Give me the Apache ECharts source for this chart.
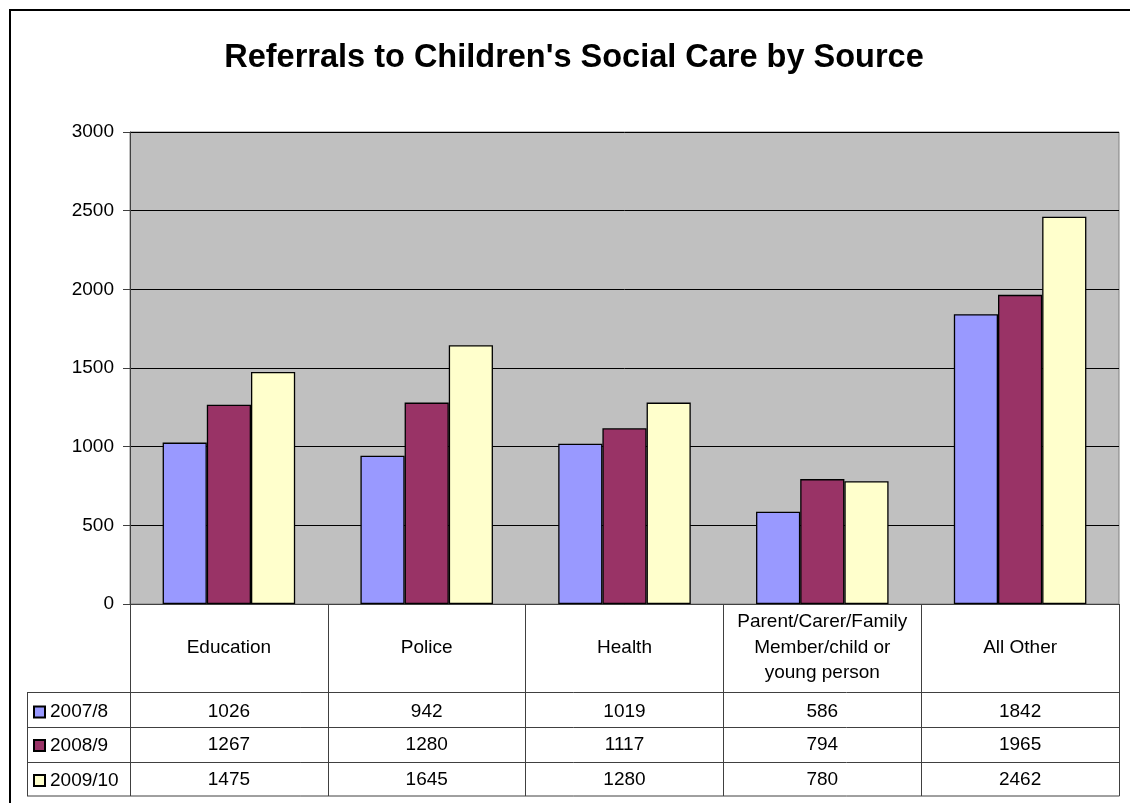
<!DOCTYPE html>
<html>
<head>
<meta charset="utf-8">
<script src="https://cdn.jsdelivr.net/npm/echarts@6/dist/echarts.min.js"></script>
<style>html,body{margin:0;padding:0;background:#fff;}#c{width:1130px;height:803px;}</style>
</head>
<body>
<div id="c"></div>
<script>
const categories = ['Education', 'Police', 'Health', 'Parent/Carer/Family\nMember/child or\nyoung person', 'All Other'];
const seriesNames = ['2007/8', '2008/9', '2009/10'];
const s2007 = [1026, 942, 1019, 586, 1842];
const s2008 = [1267, 1280, 1117, 794, 1965];
const s2009 = [1475, 1645, 1280, 780, 2462];
const yTicks = [0, 500, 1000, 1500, 2000, 2500, 3000];

const FONT = "'Liberation Sans', Arial, sans-serif";
const colors = ['#9999FF', '#993366', '#FFFFCC'];
const lineCol = '#404040';
const allSeries = [s2007, s2008, s2009];
const rowOffsets = [107.5, 141, 176];

const chart = echarts.init(document.getElementById('c'), null, {renderer: 'canvas'});

const xAxes = [{
  type: 'category', data: categories, gridIndex: 0, position: 'bottom',
  axisLine: {show: true, lineStyle: {color: lineCol, width: 1}},
  axisTick: {show: true, length: 192, lineStyle: {color: lineCol, width: 1}},
  axisLabel: {interval: 0, margin: 43.5, verticalAlign: 'middle', lineHeight: 25.6,
    fontFamily: FONT, fontSize: 19, color: '#000', align: 'center'}
}];
allSeries.forEach((arr, i) => {
  xAxes.push({
    type: 'category', data: categories, gridIndex: 0, position: 'bottom', offset: rowOffsets[i],
    axisLine: {show: false}, axisTick: {show: false},
    axisLabel: {interval: 0, margin: 0, verticalAlign: 'middle',
      fontFamily: FONT, fontSize: 19, color: '#000',
      formatter: (v, idx) => String(arr[idx])}
  });
});

const legends = seriesNames.map((name, i) => ({
  orient: 'horizontal', left: 33, top: 604 + rowOffsets[i] - 9, itemGap: 0,
  itemWidth: 11, itemHeight: 11, icon: 'rect', padding: 0,
  data: [name],
  textStyle: {fontFamily: FONT, fontSize: 19, color: '#000'}
}));

const hLines = [692.5, 727.5, 762.5, 796];
const graphics = [
  {type: 'rect', shape: {x: 10, y: 10, width: 1300, height: 1000}, style: {fill: 'none', stroke: '#000', lineWidth: 2}, silent: true}
];
hLines.forEach(y => graphics.push({type: 'line', shape: {x1: 27, y1: y, x2: 1119.5, y2: y}, style: {stroke: lineCol, lineWidth: 1}, silent: true}));
graphics.push({type: 'line', shape: {x1: 27.5, y1: 692.5, x2: 27.5, y2: 796}, style: {stroke: lineCol, lineWidth: 1}, silent: true});

chart.setOption({
  backgroundColor: '#fff',
  animation: false,
  title: {
    text: "Referrals to Children's Social Care by Source",
    left: 569, top: 37, textAlign: 'center',
    textStyle: {fontFamily: FONT, fontSize: 32.5, fontWeight: 'bold', color: '#000'}
  },
  legend: legends,
  grid: {left: 130, right: 11, top: 132, bottom: 199, show: true,
    backgroundColor: '#C0C0C0', borderColor: '#808080', borderWidth: 1, containLabel: false},
  xAxis: xAxes,
  yAxis: {
    type: 'value', min: yTicks[0], max: yTicks[yTicks.length - 1], interval: yTicks[1] - yTicks[0],
    axisLine: {show: true, lineStyle: {color: lineCol, width: 1}},
    axisTick: {show: true, length: 7, lineStyle: {color: lineCol}},
    axisLabel: {margin: 16, fontFamily: FONT, fontSize: 19, color: '#000', formatter: v => String(v)},
    splitLine: {show: true, lineStyle: {color: '#000', width: 1}}
  },
  series: allSeries.map((arr, i) => ({
    name: seriesNames[i], type: 'bar', data: arr, xAxisIndex: 0,
    barGap: '0%', barCategoryGap: '33%',
    itemStyle: {color: colors[i], borderColor: '#000', borderWidth: 1.3}
  })),
  graphic: graphics
});
</script>
</body>
</html>
